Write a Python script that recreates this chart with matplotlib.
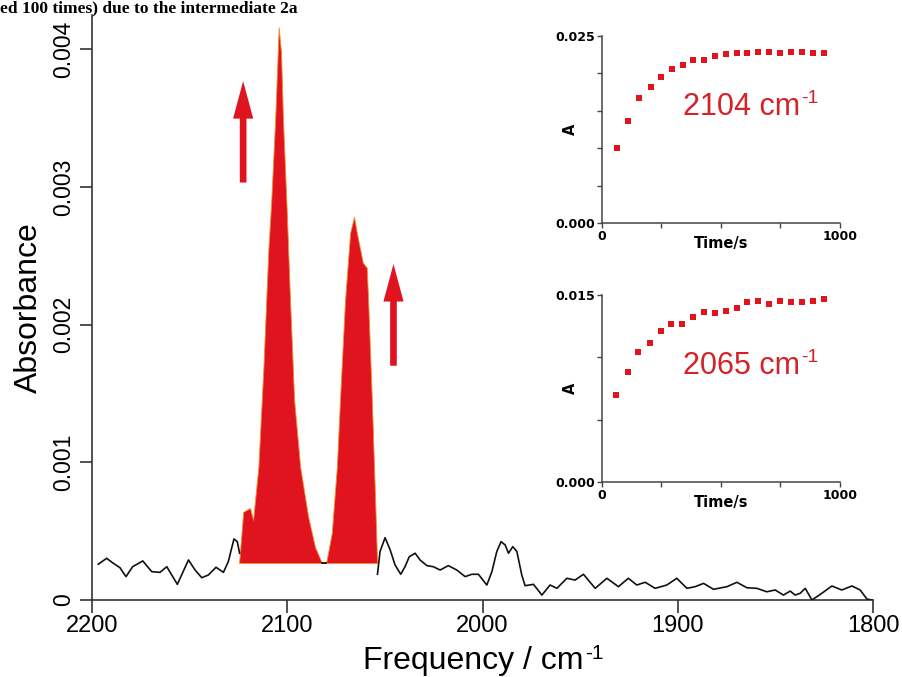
import numpy as np
import matplotlib
matplotlib.use("Agg")
import matplotlib.pyplot as plt
from matplotlib.patches import FancyArrowPatch

RED = "#e0141e"
TEXT_RED = "#d42228"

# baseline noise of the difference spectrum (left and right of the bands)
noise_left_freq = [2196.8, 2192.5, 2189.1, 2185.7, 2182.6, 2179.2, 2174.0, 2169.4,
                   2165.2, 2161.7, 2156.3, 2150.6, 2147.2, 2143.8, 2140.4, 2136.5,
                   2132.7, 2130.2, 2127.3, 2125.6, 2124.4]
noise_left_abs = [0.000260, 0.000303, 0.000267, 0.000235, 0.000170, 0.000242, 0.000284,
                  0.000206, 0.000201, 0.000242, 0.000114, 0.000291, 0.000218, 0.000162,
                  0.000182, 0.000238, 0.000201, 0.000279, 0.000444, 0.000424, 0.000340]

noise_right_freq = [2053.8, 2052.5, 2049.9, 2047.3, 2044.8, 2041.9, 2039.7, 2037.5,
                    2034.5, 2032.0, 2028.5, 2025.2, 2021.7, 2017.5, 2013.2, 2008.9,
                    2005.5, 2002.1, 1997.8, 1995.2, 1992.7, 1990.5, 1988.4, 1986.7,
                    1984.5, 1982.4, 1979.9, 1978.2, 1973.9, 1969.6, 1965.4, 1961.9,
                    1956.8, 1952.6, 1948.3, 1942.3, 1936.3, 1930.4, 1925.3, 1921.0,
                    1916.7, 1911.6, 1905.6, 1900.5, 1895.3, 1891.1, 1886.8, 1881.7,
                    1874.8, 1869.7, 1864.6, 1859.5, 1854.4, 1850.1, 1845.9, 1842.4,
                    1839.9, 1837.3, 1834.7, 1831.3, 1826.2, 1821.1, 1816.0, 1810.8,
                    1806.6, 1803.1, 1800.6]
noise_right_abs = [0.000187, 0.000352, 0.000453, 0.000364, 0.000255, 0.000187, 0.000242,
                   0.000315, 0.000340, 0.000291, 0.000250, 0.000242, 0.000218, 0.000250,
                   0.000218, 0.000170, 0.000187, 0.000187, 0.000109, 0.000206, 0.000352,
                   0.000424, 0.000400, 0.000340, 0.000388, 0.000352, 0.000182, 0.000104,
                   0.000114, 0.000036, 0.000109, 0.000085, 0.000158, 0.000145, 0.000187,
                   0.000085, 0.000158, 0.000097, 0.000158, 0.000109, 0.000129, 0.000085,
                   0.000109, 0.000158, 0.000085, 0.000097, 0.000121, 0.000078, 0.000097,
                   0.000129, 0.000089, 0.000085, 0.000060, 0.000073, 0.000036, 0.000065,
                   0.000036, 0.000049, 0.000085, 0.000000, 0.000049, 0.000102, 0.000073,
                   0.000102, 0.000073, 0.000007, 0.000000]

# the two growing bands (filled down to a flat baseline)
band_freq = [2124.7, 2123.7, 2122.6, 2119.1, 2117.5, 2114.8, 2112.2, 2109.7, 2108.3,
             2106.2, 2104.4, 2103.2, 2102.2, 2100.3, 2098.8, 2096.5, 2093.4, 2089.3,
             2085.8, 2082.3, 2080.1, 2077.2, 2074.6, 2073.0, 2070.4, 2067.8, 2065.8,
             2064.4, 2061.3, 2059.3, 2058.6, 2056.7, 2055.0, 2054.0]
band_abs = [0.000269, 0.000436, 0.000640, 0.000669, 0.000582, 0.000967, 0.001695,
            0.002545, 0.002873, 0.003491, 0.004160, 0.003978, 0.003491, 0.002836,
            0.002255, 0.001455, 0.000967, 0.000604, 0.000385, 0.000269, 0.000269,
            0.000487, 0.000967, 0.001455, 0.002182, 0.002669, 0.002785, 0.002669,
            0.002451, 0.002415, 0.002182, 0.001455, 0.000727, 0.000269]
band_base = 0.000269

# arrows: (frequency, tail absorbance, tip absorbance)
arrows = [(2122.6, 0.003033, 0.003770), (2045.6, 0.001702, 0.002441)]

# kinetic traces
t_2104 = [62, 111, 154, 204, 248, 293, 339, 384, 429, 475, 521, 566, 611, 657,
          703, 748, 794, 839, 885, 933]
a_2104 = [0.01004, 0.01362, 0.01674, 0.01821, 0.01955, 0.02054, 0.02112, 0.02179,
          0.02179, 0.02232, 0.02254, 0.02268, 0.02268, 0.02281, 0.02290, 0.02268,
          0.02281, 0.02290, 0.02268, 0.02268]
t_2065 = [59, 108, 153, 202, 247, 290, 338, 384, 429, 475, 520, 566, 611, 657,
          703, 748, 794, 839, 885, 933]
a_2065 = [0.00698, 0.00880, 0.01040, 0.01112, 0.01211, 0.01267, 0.01267, 0.01326,
          0.01361, 0.01358, 0.01374, 0.01393, 0.01447, 0.01452, 0.01428, 0.01452,
          0.01447, 0.01447, 0.01452, 0.01465]

plt.rcParams["font.family"] = ["Liberation Sans", "DejaVu Sans"]

fig = plt.figure(figsize=(9.03, 6.77), dpi=100)
ax = fig.add_axes([0.1019, 0.1137, 0.8649, 0.8641])

ax.fill_between(band_freq, band_abs, band_base, facecolor=RED, edgecolor="#f08c28",
                linewidth=0.6, zorder=2)
band_abs_arr = np.array(band_abs)
valley = np.where(band_abs_arr <= band_base + 1e-6, band_abs_arr, np.nan)
ax.plot(band_freq, valley, color="black", lw=1.2, zorder=3)
ax.plot(noise_left_freq, noise_left_abs, color="#111111", lw=1.2, zorder=3)
ax.plot(noise_right_freq, noise_right_abs, color="#111111", lw=1.2, zorder=3)

for f, a0, a1 in arrows:
    ax.add_patch(FancyArrowPatch((f, a0), (f, a1),
                                 arrowstyle="simple,head_length=27,head_width=14.5,tail_width=4.8",
                                 mutation_scale=1, shrinkA=0, shrinkB=0,
                                 color=RED, lw=0, zorder=4))

ax.set_xlim(2200, 1800)
ax.set_ylim(0, 0.00425)
ax.set_xticks([2200, 2100, 2000, 1900, 1800])
ax.set_yticks([0, 0.001, 0.002, 0.003, 0.004])
ax.set_yticklabels(["0", "0.001", "0.002", "0.003", "0.004"], rotation=90, va="center")
for s in ("top", "right"):
    ax.spines[s].set_visible(False)
for s in ("left", "bottom"):
    ax.spines[s].set_linewidth(1.2)
    ax.spines[s].set_color("#333333")
ax.tick_params(axis="both", direction="out", length=9, width=1.2, color="#333333")
ax.tick_params(axis="x", labelsize=17, pad=2)
ax.tick_params(axis="y", labelsize=16.5, pad=3)
ax.set_xlabel("Frequency / cm", fontsize=23)
ax.xaxis.set_label_coords(0.488, -0.078)
ax.set_ylabel("Absorbance", fontsize=23, labelpad=6)
# plain hyphen superscript, as in the original
ax.annotate("-1", xy=(1.0, 1.0), xycoords=ax.xaxis.label, xytext=(1, 1),
            textcoords="offset points", ha="left", va="top", fontsize=15)

fig.text(0.0, 1 - 12 / 677, "ed 100 times) due to the intermediate 2a",
         ha="left", va="baseline", fontsize=12.5, fontweight="bold",
         family="Liberation Serif")


def inset(rect, t, a, ymax, yticks, label):
    iax = fig.add_axes(rect)
    iax.plot(t, a, "s", color=RED, markersize=5, markeredgewidth=0)
    iax.set_xlim(0, 1000)
    iax.set_ylim(0, ymax)
    iax.set_xticks([0, 250, 500, 750, 1000])
    iax.set_xticklabels(["0", "", "", "", "1000"])
    iax.set_yticks(yticks)
    iax.set_yticklabels(["0.000"] + [""] * (len(yticks) - 2) + ["%.3f" % ymax])
    for s in ("top", "right"):
        iax.spines[s].set_visible(False)
    for s in ("left", "bottom"):
        iax.spines[s].set_linewidth(1.1)
        iax.spines[s].set_color("#444444")
    iax.tick_params(direction="out", length=3.5, width=1.0, color="#444444",
                    labelsize=9, pad=1.5)
    for lab in iax.get_xticklabels() + iax.get_yticklabels():
        lab.set_family("DejaVu Sans")
        lab.set_fontweight("bold")
    iax.set_xlabel("Time/s", fontsize=10.5, fontweight="bold", family="DejaVu Sans")
    iax.xaxis.set_label_coords(0.5, -0.068)
    iax.set_ylabel("A", fontsize=10.5, fontweight="bold", family="DejaVu Sans")
    iax.yaxis.set_label_coords(-0.10, 0.5)
    txt = iax.text(0.34, 0.58, label, transform=iax.transAxes, fontsize=22,
                   color=TEXT_RED)
    iax.annotate("-1", xy=(1.0, 1.0), xycoords=txt, xytext=(1, 1),
                 textcoords="offset points", ha="left", va="top", fontsize=14,
                 color=TEXT_RED)
    iax.patch.set_alpha(0)
    return iax


inset([602 / 903, 1 - 223 / 677, 238 / 903, 187 / 677], t_2104, a_2104, 0.025,
      [0, 0.005, 0.010, 0.015, 0.020, 0.025], "2104 cm")
inset([602 / 903, 1 - 482 / 677, 238 / 903, 187 / 677], t_2065, a_2065, 0.015,
      [0, 0.005, 0.010, 0.015], "2065 cm")

fig.savefig("out.png", dpi=100)
